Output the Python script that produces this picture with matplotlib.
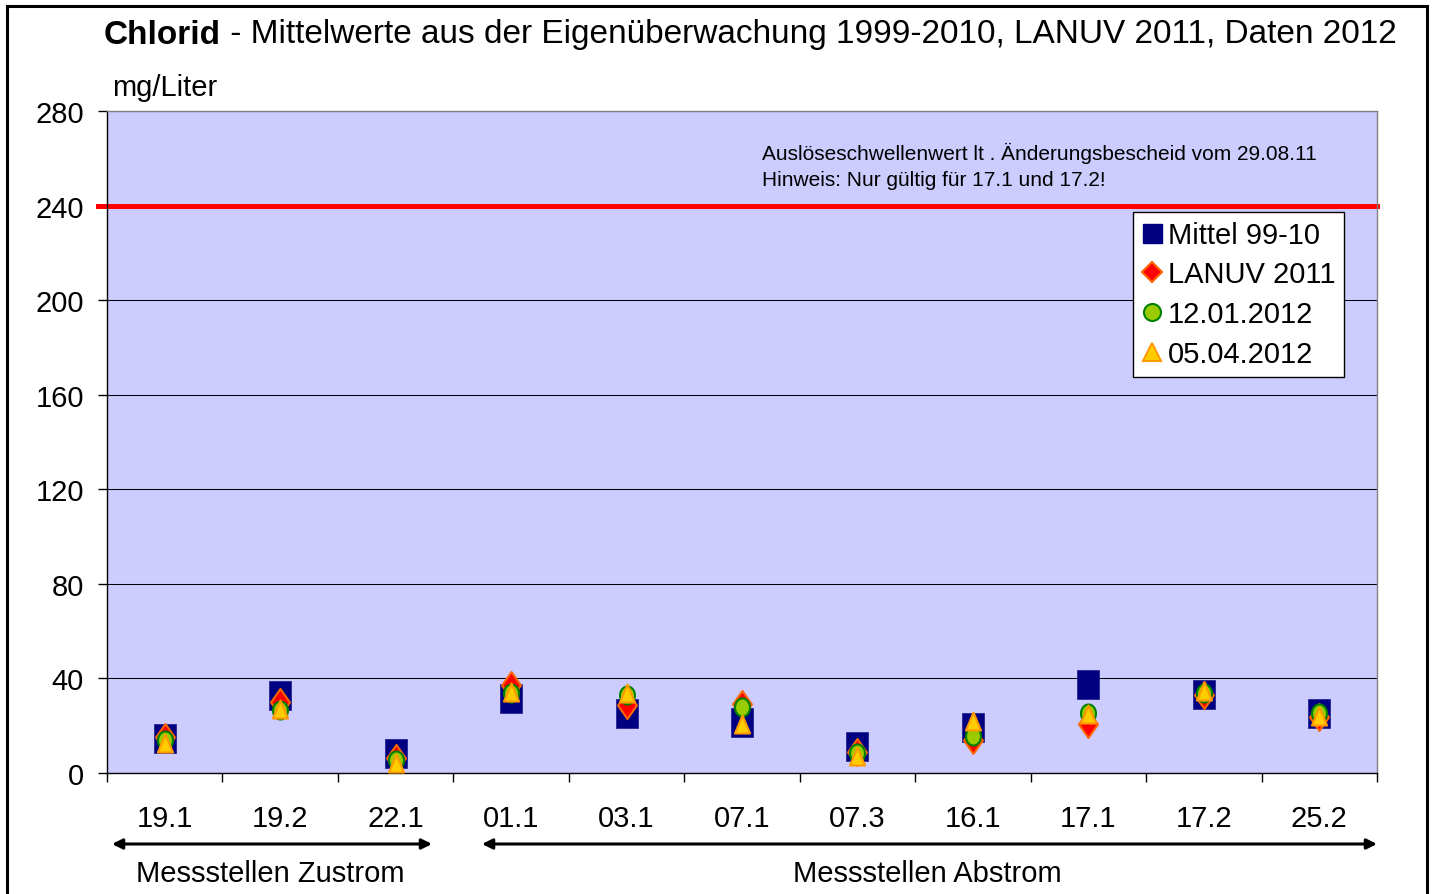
import matplotlib
matplotlib.use("Agg")
import matplotlib.pyplot as plt
from matplotlib.path import Path
from matplotlib.lines import Line2D
from matplotlib.patches import Rectangle
import numpy as np

plt.rcParams['font.family'] = ['Liberation Sans', 'DejaVu Sans']

categories = ["19.1", "19.2", "22.1", "01.1", "03.1", "07.1", "07.3", "16.1", "17.1", "17.2", "25.2"]
mittel_99_10 = [14.7, 33.1, 8.5, 31.7, 25.5, 21.5, 11.6, 19.5, 37.6, 33.3, 25.5]
lanuv_2011 = [15.3, 29.9, 6.5, 37.2, 28.8, 29.0, 8.7, 14.0, 20.7, 33.0, 23.5]
d_12_01_2012 = [14.1, 26.8, 5.6, 34.0, 33.1, 27.8, 8.5, 15.8, 25.2, 33.7, 25.2]
d_05_04_2012 = [12.8, 26.9, 4.3, 34.1, 33.8, 20.9, 7.1, 21.9, 24.8, 34.5, 24.0]
threshold = 240
yticks = [0, 40, 80, 120, 160, 200, 240, 280]
series_labels = ["Mittel 99-10", "LANUV 2011", "12.01.2012", "05.04.2012"]

W, H = 1434, 895
DPI = 100
fig = plt.figure(figsize=(W / DPI, H / DPI), dpi=DPI)
fig.patch.set_facecolor('white')

L, R, T, B = 107, 1377, 112, 774
ax = fig.add_axes([L / W, 1 - B / H, (R - L) / W, (B - T) / H])
ax.set_facecolor('#CCCCFF')

px = 72.0 / DPI  # points per pixel
FS = 21

# stretched marker shapes (the reference is vertically stretched)
sq_path = Path([(-0.38, -0.5), (0.38, -0.5), (0.38, 0.5), (-0.38, 0.5), (-0.38, -0.5)],
               [Path.MOVETO, Path.LINETO, Path.LINETO, Path.LINETO, Path.CLOSEPOLY])
dm_path = Path([(0, 0.5), (0.35, 0), (0, -0.5), (-0.35, 0), (0, 0.5)],
               [Path.MOVETO, Path.LINETO, Path.LINETO, Path.LINETO, Path.CLOSEPOLY])
t = np.linspace(0, 2 * np.pi, 60)
el_path = Path(np.column_stack([0.415 * np.cos(t), 0.5 * np.sin(t)]))
tr_path = Path([(0, 0.5), (0.42, -0.5), (-0.42, -0.5), (0, 0.5)],
               [Path.MOVETO, Path.LINETO, Path.LINETO, Path.CLOSEPOLY])

x = np.arange(len(categories))
ax.plot(x, mittel_99_10, linestyle='none', marker=sq_path, markersize=29 * px,
        markerfacecolor='#000080', markeredgecolor='#1a1a8c', markeredgewidth=0.5, zorder=3)
ax.plot(x, lanuv_2011, linestyle='none', marker=dm_path, markersize=27 * px,
        markerfacecolor='#FF0000', markeredgecolor='#FF6600', markeredgewidth=1.5, zorder=4)
ax.plot(x, d_12_01_2012, linestyle='none', marker=el_path, markersize=18 * px,
        markerfacecolor='#99CC00', markeredgecolor='#008000', markeredgewidth=1.5, zorder=5)
ax.plot(x, d_05_04_2012, linestyle='none', marker=tr_path, markersize=18 * px,
        markerfacecolor='#FFCC00', markeredgecolor='#FF9900', markeredgewidth=1.5, zorder=6)

# threshold line
ax.axhline(threshold, xmin=-9 / (R - L), xmax=1, color='#FF0000', linewidth=5 * px, clip_on=False, zorder=2)

ax.set_xlim(-0.5, len(categories) - 0.5)
ax.set_ylim(0, 280)
ax.set_yticks(yticks)
ax.set_yticklabels([str(v) for v in yticks], fontsize=FS)
ax.yaxis.grid(True, color='black', linewidth=0.75)
ax.set_axisbelow(True)

ax.set_xticks(x)
ax.set_xticklabels(categories, fontsize=FS)
ax.set_xticks(np.arange(-0.5, len(categories)), minor=True)
ax.tick_params(axis='x', which='major', length=0, pad=22)
ax.tick_params(axis='x', which='minor', length=9 * px, width=1, color='black', direction='out')
ax.tick_params(axis='y', length=9 * px, width=1, color='black', direction='out', pad=10)

for s in ['top', 'right']:
    ax.spines[s].set_color('#808080')
    ax.spines[s].set_linewidth(1)
for s in ['left', 'bottom']:
    ax.spines[s].set_color('black')
    ax.spines[s].set_linewidth(1)

# annotation text
ax.text(762 / W, 1 - 153 / H, "Auslöseschwellenwert lt . Änderungsbescheid vom 29.08.11",
        transform=fig.transFigure, fontsize=15, va='center', ha='left')
ax.text(762 / W, 1 - 180 / H, "Hinweis: Nur gültig für 17.1 und 17.2!",
        transform=fig.transFigure, fontsize=15, va='center', ha='left')

# legend
handles = [
    Line2D([], [], linestyle='none', marker='s', markersize=19 * px, markerfacecolor='#000080', markeredgecolor='#000080'),
    Line2D([], [], linestyle='none', marker='D', markersize=14 * px, markerfacecolor='#FF0000', markeredgecolor='#FF6600', markeredgewidth=1.5),
    Line2D([], [], linestyle='none', marker='o', markersize=17 * px, markerfacecolor='#99CC00', markeredgecolor='#008000', markeredgewidth=1.5),
    Line2D([], [], linestyle='none', marker='^', markersize=18 * px, markerfacecolor='#FFCC00', markeredgecolor='#FF9900', markeredgewidth=1.5),
]
leg = fig.legend(handles, series_labels, loc='upper left',
                 bbox_to_anchor=(1133 / W, 1 - 213 / H), bbox_transform=fig.transFigure,
                 fontsize=FS, frameon=True, fancybox=False, framealpha=1,
                 edgecolor='black', borderpad=0.3, labelspacing=0.4,
                 handlelength=0.7, handletextpad=0.2, borderaxespad=0)
leg.get_frame().set_linewidth(1)

# title
fig.canvas.draw()
renderer = fig.canvas.get_renderer()
ty = 1 - 35 / H
t1 = fig.text(104 / W, ty, "Chlorid", fontsize=24, fontweight='bold', va='center', ha='left')
bb1 = t1.get_window_extent(renderer)
t2 = fig.text((104 + bb1.width) / W, ty, " - Mittelwerte aus der Eigenüberwachung 1999-2010, LANUV 2011, Daten 2012",
              fontsize=24, va='center', ha='left')

# unit label
fig.text(112 / W, 1 - 88 / H, "mg/Liter", fontsize=FS, va='center', ha='left')

# arrows
arrow_y = 1 - 845 / H
for x0, x1 in [(112, 432), (482, 1377)]:
    fig.add_artist(matplotlib.patches.FancyArrowPatch(
        (x0 / W, arrow_y), (x1 / W, arrow_y), transform=fig.transFigure,
        arrowstyle='<|-|>,head_length=6,head_width=3', color='black', linewidth=2.2,
        mutation_scale=1, shrinkA=0, shrinkB=0))

fig.text(270 / W, 1 - 874 / H, "Messstellen Zustrom", fontsize=FS, va='center', ha='center')
fig.text(927 / W, 1 - 874 / H, "Messstellen Abstrom", fontsize=FS, va='center', ha='center')

# outer border
fig.add_artist(Rectangle((7 / W, -0.02), (1427 - 7) / W, 1 - 7 / H + 0.02, transform=fig.transFigure,
                         fill=False, edgecolor='black', linewidth=2.2, clip_on=False))

fig.savefig("out.png", dpi=DPI)
